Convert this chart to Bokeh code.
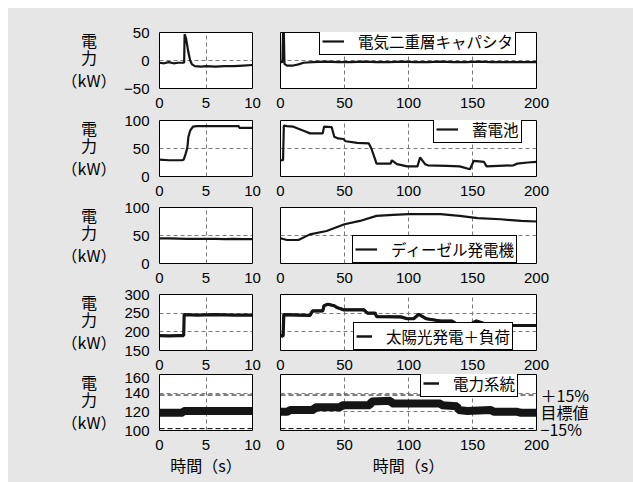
from bokeh.plotting import figure
from bokeh.layouts import column, row
from bokeh.models import Legend, LegendItem, Span, FixedTicker, Range1d, LinearAxis
from bokeh.core.properties import value
from bokeh.embed import file_html
from bokeh.resources import INLINE

# ---------------- data ----------------
# short window (0-10 s)
cap_t_s = [0, 0.5, 1, 1.5, 2, 2.4, 2.65, 2.7, 2.85, 2.95, 3.1, 3.3, 3.5, 3.8, 4.5, 5, 6, 7, 8, 9, 10]
cap_p_s = [-4, -5, -3, -5, -4, -4, -4, 47, 40, 30, 15, 0, -7, -10, -11, -10, -11, -10, -10, -9, -8]
bat_t_s = [0, 1, 2.4, 2.6, 2.8, 3.0, 3.1, 3.3, 3.6, 4, 6, 8.5, 8.6, 10]
bat_p_s = [30, 29, 29, 30, 40, 52, 70, 82, 89, 90, 90, 90, 87, 87]
dsl_t_s = [0, 1, 2, 3, 4, 5, 6, 7, 8, 9, 10]
dsl_p_s = [45, 45, 44.5, 44, 44, 44, 44, 43.5, 44, 43.5, 43.5]
pv_t_s = [0, 1, 2, 2.6, 2.65, 4, 6, 8, 10]
pv_p_s = [190, 189, 190, 190, 246, 245, 246, 245, 245]
grd_t_s = [0, 1, 2, 2.5, 2.6, 4, 6, 8, 10]
grd_p_s = [119, 119, 119, 119, 121, 121, 121, 121, 121]

# long window (0-200 s)
cap_t_l = [0, 1.5, 2.0, 2.6, 3.1, 5, 10, 14, 18, 25, 35, 45, 55, 65, 75, 85, 95, 105, 115, 125, 135, 145, 155, 165, 175, 185, 195, 200]
cap_p_l = [-3, -3, 50, 50, -6, -9, -9, -7, -4, -3, -2, -3, -3, -2, -3, -3, -2, -3, -3, -2, -3, -3, -2, -3, -3, -3, -3, -3]
bat_t_l = [0, 2, 2.6, 5, 10, 20, 23, 33, 34, 40, 42, 45, 49, 51, 60, 69, 71, 74, 75, 86, 87, 91, 99, 107, 109, 113, 115, 130, 140, 148, 151, 159, 161, 182, 185, 193, 200]
bat_p_l = [29, 29, 91, 90, 89, 80, 77, 77, 89, 88, 71, 68, 67, 63, 60, 59, 50, 30, 23, 23, 29, 22, 18, 18, 34, 22, 20, 19, 18, 13, 28, 26, 18, 20, 23, 25, 26]
dsl_t_l = [0, 5, 14, 23, 36, 50, 62, 75, 88, 100, 125, 140, 154, 172, 188, 200]
dsl_p_l = [45, 42, 42, 52, 58, 70, 76, 85, 87, 88, 88, 85, 81, 79, 76, 75]
pv_t_l = [0, 2, 2.6, 23, 25, 33, 34, 37, 42, 44, 47, 49, 65, 68, 74, 75, 94, 99, 104, 108, 114, 125, 134, 138, 148, 153, 161, 167, 200]
pv_p_l = [190, 188, 246, 244, 256, 256, 270, 274, 270, 265, 262, 259, 259, 250, 250, 241, 240, 235, 235, 247, 235, 229, 229, 220, 220, 229, 220, 217, 217]
grd_t_l = [0, 5, 8, 26, 27, 47, 48, 70, 71, 86, 87, 99, 107, 125, 126, 138, 139, 146, 164, 167, 185, 188, 200]
grd_p_l = [120, 120, 122, 122, 125, 125, 127, 127, 131, 132, 129, 129, 129, 129, 127, 126, 122, 121, 122, 120, 120, 119, 119]

series_names = ["電気二重層キャパシタ", "蓄電池", "ディーゼル発電機", "太陽光発電＋負荷", "電力系統"]
short_t = [cap_t_s, bat_t_s, dsl_t_s, pv_t_s, grd_t_s]
short_p = [cap_p_s, bat_p_s, dsl_p_s, pv_p_s, grd_p_s]
long_t = [cap_t_l, bat_t_l, dsl_t_l, pv_t_l, grd_t_l]
long_p = [cap_p_l, bat_p_l, dsl_p_l, pv_p_l, grd_p_l]

y_ranges = [(-50, 50), (0, 100), (0, 100), (150, 300), (100, 160)]
y_ticks = [[-50, 0, 50], [0, 50, 100], [0, 50, 100], [150, 200, 250, 300], [100, 120, 140, 160]]
x_short = (0, 10)
x_long = (0, 200)
x_ticks_short = [0, 5, 10]
x_ticks_long = [0, 50, 100, 150, 200]
target_levels = [138, 120, 102]          # +15% / target / -15%
target_labels = ["＋15%", "目標値", "−15%"]
y_label_lines = ["電", "力", "（kW）"]
x_label = "時間（s）"

# ---------------- style / layout ----------------
BG = "#e6e6e6"
NUM_FONT = "Liberation Sans"
JP_FONT = "Noto Sans CJK JP"
LINE = "#151515"
line_widths = [2.2, 2.2, 2.2, 3.2, 8]
legend_glyph_w = [22, 22, 22, 16, 16]
legend_x = [39, 153, 72, 73, 140]
legend_top = [True, True, False, False, True]
LEG_PAD, LEG_STANDOFF, LEG_H = 2, 14, 23
ylab_frac = [7 / 56, 24 / 56, 47.5 / 56]      # fraction of frame height below the frame top

FRAME_H = 56
LAB_W, LEFT_W, RIGHT_W = 100, 158, 367
# (top border, bottom border) per row
borders = [(24, 22), (10, 22), (9, 22), (9, 22), (2, 52)]


def style_axes(p, xticks, yticks, show_y):
    p.background_fill_color = "white"
    p.border_fill_color = BG
    p.outline_line_color = "black"
    p.outline_line_width = 1
    p.outline_line_alpha = 1
    for ax in p.axis:
        ax.axis_line_color = None
        ax.major_tick_line_color = None
        ax.minor_tick_line_color = None
        ax.major_label_text_font = NUM_FONT
        ax.major_label_text_font_size = "15px"
        ax.major_label_text_color = "black"
    p.xaxis.ticker = FixedTicker(ticks=xticks)
    p.xaxis.major_label_standoff = 3
    p.yaxis.ticker = FixedTicker(ticks=yticks)
    p.yaxis.major_label_standoff = 4
    if not show_y:
        p.yaxis.visible = False
    p.xgrid.ticker = FixedTicker(ticks=xticks)
    p.ygrid.ticker = FixedTicker(ticks=yticks)
    for g in (p.xgrid, p.ygrid):
        g.grid_line_color = "#7a7a7a"
        g.grid_line_dash = "4 3"
        g.grid_line_width = 1


rows = []
for i in range(5):
    bt, bb = borders[i]
    h = bt + FRAME_H + bb
    ymin, ymax = y_ranges[i]
    # ---- y-axis title column ("電 / 力 / (kW)"), frame aligned with the plots
    lab = figure(width=LAB_W, height=h, x_range=Range1d(0, 1), y_range=Range1d(ymin, ymax),
                 output_backend="svg", toolbar_location=None,
                 min_border_left=0, min_border_right=0, min_border_top=bt, min_border_bottom=bb,
                 x_axis_location=None, y_axis_location=None)
    lab.background_fill_color = BG
    lab.border_fill_color = BG
    lab.outline_line_color = None
    lab.grid.visible = False
    lab.text(x=[0.805] * 3, y=[ymax - f * (ymax - ymin) for f in ylab_frac], text=y_label_lines,
             text_align="center", text_baseline="middle", text_font=value(JP_FONT),
             text_font_size="16px", text_color="black")
    # ---- left (0-10 s)
    pl = figure(width=LEFT_W, height=h, x_range=Range1d(*x_short), y_range=Range1d(ymin, ymax),
                output_backend="svg", toolbar_location=None,
                min_border_left=51, min_border_right=14, min_border_top=bt, min_border_bottom=bb)
    style_axes(pl, x_ticks_short, y_ticks[i], True)
    pl.line(short_t[i], short_p[i], line_color=LINE, line_width=line_widths[i])
    # ---- right (0-200 s)
    pr = figure(width=RIGHT_W, height=h, x_range=Range1d(*x_long), y_range=Range1d(ymin, ymax),
                output_backend="svg", toolbar_location=None,
                min_border_left=14, min_border_right=97, min_border_top=bt, min_border_bottom=bb)
    style_axes(pr, x_ticks_long, y_ticks[i], False)
    proxy = pr.line(long_t[i], long_p[i], line_color=LINE, line_width=min(line_widths[i], 2.5))
    if line_widths[i] > 2.5:
        pr.line(long_t[i], long_p[i], line_color=LINE, line_width=line_widths[i])
    vy = FRAME_H - LEG_H if legend_top[i] else 0
    leg = Legend(items=[LegendItem(label=series_names[i], renderers=[proxy])],
                 location=(legend_x[i], vy), padding=LEG_PAD, margin=0, spacing=0,
                 glyph_width=legend_glyph_w[i], glyph_height=14, label_height=14,
                 label_standoff=LEG_STANDOFF, label_text_font=JP_FONT, label_text_font_size="15.5px",
                 label_text_color="black", border_line_color="black", border_line_width=1,
                 border_line_alpha=1, background_fill_color="white", background_fill_alpha=1)
    pr.add_layout(leg)

    if i == 4:
        pl.ygrid.ticker = FixedTicker(ticks=[120, 140])
        pr.ygrid.ticker = FixedTicker(ticks=[120, 140])
        for lvl in (target_levels[0], target_levels[2]):
            for p in (pl, pr):
                p.add_layout(Span(location=lvl, dimension="width", line_color="black",
                                  line_dash="5 3", line_width=1))
        rax = LinearAxis(ticker=FixedTicker(ticks=target_levels),
                         major_label_overrides={lv: tx for lv, tx in zip(target_levels, target_labels)},
                         axis_line_color=None, major_tick_line_color=None, minor_tick_line_color=None,
                         major_label_standoff=-2, major_label_text_font=JP_FONT,
                         major_label_text_font_size="16px", major_label_text_color="black")
        pr.add_layout(rax, "right")
        for p in (pl, pr):
            p.xaxis.axis_label = x_label
            p.xaxis.axis_label_text_font = JP_FONT
            p.xaxis.axis_label_text_font_size = "16px"
            p.xaxis.axis_label_text_font_style = "normal"
            p.xaxis.axis_label_text_color = "black"
            p.xaxis.axis_label_standoff = 0
    rows.append(row(lab, pl, pr, spacing=0, styles={"background-color": BG}))

layout = column(*rows, spacing=0, margin=(8, 0, 0, 8), styles={"background-color": BG})
open("out.html", "w").write(file_html(layout, INLINE))
